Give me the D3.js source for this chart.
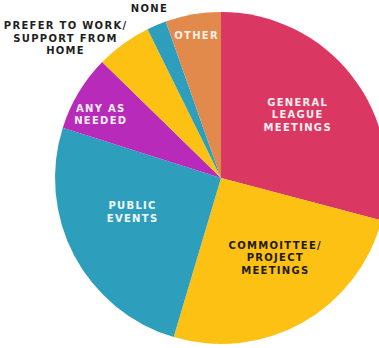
<!DOCTYPE html>
<html>
<head>
<meta charset="utf-8">
<script src="https://cdn.jsdelivr.net/npm/d3@7/dist/d3.min.js"></script>
<style>
  html, body { margin: 0; padding: 0; background: #ffffff; }
  svg { display: block; }
  text { font-family: "DejaVu Sans", sans-serif; font-weight: bold; }
</style>
</head>
<body>
<svg id="chart" width="379" height="348"></svg>
<script>
// Share of members by preferred way to participate (percent)
const categories = [
  "GENERAL LEAGUE MEETINGS",
  "COMMOITTEE/ PROJECT MEETINGS",
  "PUBLIC EVENTS",
  "ANY AS NEEDED",
  "PREFER TO WORK/ SUPPORT FROM HOME",
  "NONE",
  "OTHER"
];
const values = [29.1, 25.5, 25.3, 7.4, 5.4, 1.9, 5.4];

// Label text broken into lines
const labelLines = [
  ["GENERAL", "LEAGUE", "MEETINGS"],
  ["COMMOITTEE/", "PROJECT", "MEETINGS"],
  ["PUBLIC", "EVENTS"],
  ["ANY AS", "NEEDED"],
  ["PREFER TO WORK/", "SUPPORT FROM", "HOME"],
  ["NONE"],
  ["OTHER"]
];

const colors = ["#da3762", "#fdc114", "#2e9ebd", "#b82ab9", "#fdc114", "#2e9ebd", "#e18a4b"];
const textColors = ["#fbeff2", "#1f1a14", "#f4fbfd", "#fbf0fb", "#1f1f1f", "#1f1f1f", "#fdf1e6"];
// Label placement: radius as fraction of pie radius, angular nudge in degrees
const labelRadius = [0.6, 0.58, 0.57, 0.82, 1.26, 1.11, 0.87];
const labelNudge = [-2, -5, 7, -3, -12, 0, 0];

const svg = d3.select("#chart");
const cx = 221, cy = 178, R = 166;

const pie = d3.pie().sort(null).value(d => d);
const arcs = pie(values);
const arc = d3.arc().innerRadius(0).outerRadius(R);

const g = svg.append("g").attr("transform", `translate(${cx},${cy})`);

g.selectAll("path.slice")
  .data(arcs)
  .join("path")
  .attr("class", "slice")
  .attr("d", arc)
  .attr("fill", (d, i) => colors[i]);

const lineH = 12.5;
const labels = g.selectAll("text.lbl")
  .data(arcs)
  .join("text")
  .attr("class", "lbl")
  .attr("text-anchor", "middle")
  .attr("font-size", 10)
  .attr("letter-spacing", 1.3)
  .attr("fill", (d, i) => textColors[i])
  .attr("transform", (d, i) => {
    const a = (d.startAngle + d.endAngle) / 2 + labelNudge[i] * Math.PI / 180;
    const r = R * labelRadius[i];
    return `translate(${r * Math.sin(a)},${-r * Math.cos(a)})`;
  });

labels.each(function (d, i) {
  const lines = labelLines[i];
  const t = d3.select(this);
  lines.forEach((ln, k) => {
    t.append("tspan")
      .attr("x", 0)
      .attr("y", (k - (lines.length - 1) / 2) * lineH)
      .attr("dy", "0.36em")
      .text(ln);
  });
});
</script>
</body>
</html>
